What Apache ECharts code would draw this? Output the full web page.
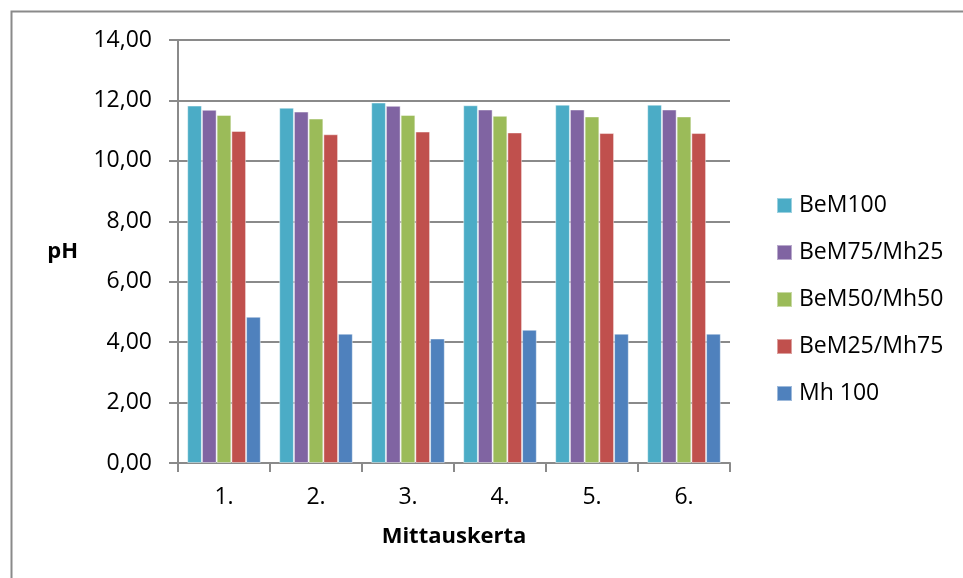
<!DOCTYPE html>
<html>
<head>
<meta charset="utf-8">
<script src="https://cdn.jsdelivr.net/npm/echarts@6/dist/echarts.min.js"></script>
<style>
  html, body { margin: 0; padding: 0; background: #fff; }
  #chart { width: 963px; height: 578px; }
</style>
</head>
<body>
<div id="chart"></div>
<script>
// Measurement rounds and pH readings per mixture
var categories = ['1.', '2.', '3.', '4.', '5.', '6.'];
var seriesNames = ['BeM100', 'BeM75/Mh25', 'BeM50/Mh50', 'BeM25/Mh75', 'Mh 100'];
var beM100   = [11.83, 11.76, 11.93, 11.84, 11.86, 11.86];
var beM75    = [11.69, 11.63, 11.82, 11.70, 11.70, 11.70];
var beM50    = [11.52, 11.40, 11.52, 11.49, 11.47, 11.47];
var beM25    = [10.99, 10.88, 10.97, 10.94, 10.92, 10.92];
var mh100    = [4.84, 4.28, 4.12, 4.41, 4.28, 4.28];
var yTicks   = { min: 0, max: 14, interval: 2 };

var colors = ['#4BACC6', '#8064A2', '#9BBB59', '#C0504D', '#4F81BD'];
var values = [beM100, beM75, beM50, beM25, mh100];
var FONT = '"Open Sans", sans-serif';
var GRAY = '#8a8a8a';

var chart = echarts.init(document.getElementById('chart'), null, { renderer: 'canvas' });

chart.setOption({
  animation: false,
  color: colors,
  textStyle: { fontFamily: FONT, color: '#000' },
  graphic: [{
    type: 'rect',
    shape: { x: 11.5, y: 11.5, width: 1000, height: 1000 },
    style: { fill: 'none', stroke: GRAY, lineWidth: 2 },
    silent: true
  }],
  grid: { left: 178, top: 40, right: 233, bottom: 115 },
  legend: {
    orient: 'vertical',
    left: 771,
    top: 189,
    itemWidth: 15,
    itemHeight: 15,
    itemGap: 24,
    icon: 'rect',
    textStyle: { fontFamily: FONT, fontSize: 23, color: '#000', padding: [0, 0, 0, 2] },
    data: seriesNames
  },
  xAxis: {
    type: 'category',
    data: categories,
    name: 'Mittauskerta',
    nameLocation: 'middle',
    nameGap: 63,
    nameTextStyle: { fontFamily: FONT, fontSize: 22, fontWeight: 'bold', color: '#000' },
    axisLine: { lineStyle: { color: GRAY, width: 2 } },
    axisTick: { show: true, length: 9, lineStyle: { color: GRAY, width: 2 } },
    axisLabel: { fontFamily: FONT, fontSize: 23, color: '#000', margin: 23 }
  },
  yAxis: {
    type: 'value',
    min: yTicks.min,
    max: yTicks.max,
    interval: yTicks.interval,
    name: 'pH',
    nameLocation: 'middle',
    nameRotate: 0,
    nameGap: 100,
    nameTextStyle: { fontFamily: FONT, fontSize: 22, fontWeight: 'bold', color: '#000' },
    axisLine: { show: true, lineStyle: { color: GRAY, width: 2 } },
    axisTick: { show: true, length: 9, lineStyle: { color: GRAY, width: 2 } },
    splitLine: { show: true, lineStyle: { color: GRAY, width: 2 } },
    axisLabel: {
      fontFamily: FONT, fontSize: 23, color: '#000', margin: 26,
      formatter: function (v) { return v.toFixed(2).replace('.', ','); }
    }
  },
  series: seriesNames.map(function (name, i) {
    return {
      name: name,
      type: 'bar',
      data: values[i],
      barGap: '0%',
      barCategoryGap: '20%',
      itemStyle: { color: colors[i], borderColor: 'rgba(255,255,255,0.45)', borderWidth: 1 }
    };
  })
});
</script>
</body>
</html>
